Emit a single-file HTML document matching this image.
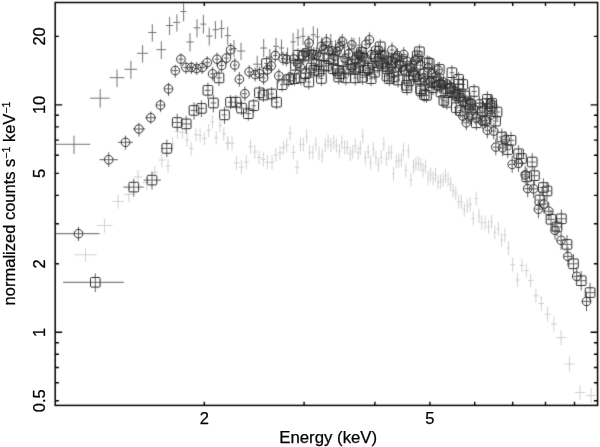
<!DOCTYPE html>
<html><head><meta charset="utf-8"><style>
html,body{margin:0;padding:0;background:#fff;}
body{width:600px;height:447px;overflow:hidden;font-family:"Liberation Sans",sans-serif;}
svg{display:block;}
</style></head><body>
<svg width="600" height="447" viewBox="0 0 600 447">
<defs><filter id="bl" x="-2%" y="-2%" width="104%" height="104%"><feConvolveMatrix order="3" kernelMatrix="0.015 0.08 0.015 0.08 0.62 0.08 0.015 0.08 0.015" edgeMode="none"/></filter><filter id="tb" x="-5%" y="-5%" width="110%" height="110%"><feGaussianBlur stdDeviation="0.2"/></filter></defs><g filter="url(#bl)">
<path d="M74.3 254.8H96.6M85.5 248.3V262.0M96.6 225.5H112.4M104.5 218.4V232.7M112.4 201.4H124.0M118.1 194.3V208.7M124.0 194.5H133.9M128.9 187.4V202.0M133.9 176.8H142.5M138.0 170.0V184.6M142.5 182.6H151.5M146.7 177.3V190.2M151.5 172.4H158.5M154.8 166.1V178.4M158.5 160.0H165.5M161.9 153.8V167.4M165.5 166.0H170.5M168.0 159.0V173.0M170.5 144.0H175.0M172.6 137.0V151.0M175.0 131.5H179.8M177.4 127.2V138.6M179.8 132.5H184.8M182.3 126.0V139.0M184.8 140.0H189.2M187.0 133.0V147.0M189.2 148.6H193.6M191.2 142.1V155.7M193.6 134.7H198.0M196.0 128.0V141.5M198.0 135.3H202.2M200.1 128.5V142.0M202.2 138.6H206.5M204.4 132.0V145.3M206.5 130.6H210.6M208.7 124.0V137.2M210.6 121.8H214.3M212.4 115.0V128.6M214.3 137.7H218.2M216.2 131.0V144.6M218.2 125.6H222.0M220.1 119.0V132.2M222.0 133.9H225.8M223.8 127.3V140.5M225.8 142.7H230.0M227.9 136.0V149.4M224.9 143.2H230.1M227.5 136.2V150.2M229.4 143.2H234.6M232.0 136.2V150.2M233.8 162.9H239.0M236.4 155.9V169.9M238.8 167.0H244.0M241.4 160.0V174.0M243.7 162.0H248.9M246.3 155.0V169.0M248.3 146.6H252.7M250.5 139.6V153.6M252.7 152.0H257.1M254.9 145.0V159.0M256.9 157.5H261.3M259.1 150.5V164.5M261.1 159.5H265.5M263.3 152.5V166.5M265.2 162.3H269.6M267.4 155.3V169.3M269.8 162.3H274.2M272.0 155.3V169.3M273.6 155.0H278.0M275.8 148.0V162.0M277.8 152.8H282.2M280.0 145.8V159.8M281.2 147.8H285.6M283.4 140.8V154.8M284.5 145.2H288.9M286.7 138.2V152.2M287.9 133.2H292.3M290.1 126.2V140.2M291.1 152.3H295.5M293.3 145.3V159.3M294.9 167.4H299.3M297.1 160.4V174.4M299.2 144.4H301.8M300.5 137.4V151.4M302.1 144.4H304.7M303.4 137.4V151.4M305.4 136.3H308.0M306.7 129.3V143.3M308.1 152.3H310.7M309.4 145.3V159.3M311.5 152.3H314.1M312.8 145.3V159.3M314.6 144.4H317.2M315.9 137.4V151.4M317.7 153.3H320.3M319.0 146.3V160.3M320.9 155.7H323.5M322.2 148.7V162.7M324.0 145.0H326.6M325.3 138.0V152.0M326.8 141.5H329.4M328.1 134.5V148.5M329.6 144.9H332.2M330.9 137.9V151.9M332.5 142.2H335.1M333.8 135.2V149.2M335.1 145.5H337.7M336.4 138.5V152.5M338.0 151.1H340.6M339.3 144.1V158.1M340.5 142.3H343.1M341.8 135.3V149.3M343.4 147.4H346.0M344.7 140.4V154.4M346.0 147.7H348.6M347.3 140.7V154.7M348.9 154.1H351.5M350.2 147.1V161.1M351.4 151.9H354.0M352.7 144.9V158.9M353.9 145.5H356.5M355.2 138.5V152.5M356.8 152.8H359.4M358.1 145.8V159.8M359.0 148.2H361.6M360.3 141.2V155.2M361.5 136.3H364.1M362.8 129.3V143.3M364.0 157.8H366.6M365.3 150.8V164.8M366.9 151.9H369.5M368.2 144.9V158.9M369.4 162.5H372.0M370.7 155.5V169.5M372.1 149.4H374.7M373.4 142.4V156.4M374.6 157.8H377.2M375.9 150.8V164.8M377.1 165.0H379.7M378.4 158.0V172.0M379.9 157.3H382.5M381.2 150.3V164.3M382.5 144.0H385.1M383.8 137.0V151.0M385.0 159.1H387.6M386.3 152.1V166.1M387.5 152.8H390.1M388.8 145.8V159.8M390.0 152.2H392.6M391.3 145.2V159.2M392.2 173.7H394.8M393.5 166.7V180.7M395.0 161.5H397.6M396.3 154.5V168.5M397.6 160.6H400.2M398.9 153.6V167.6M400.1 160.0H402.7M401.4 153.0V167.0M402.1 150.2H404.7M403.4 143.2V157.2M404.6 170.4H407.2M405.9 163.4V177.4M407.1 151.1H409.7M408.4 144.1V158.1M409.6 179.6H412.2M410.9 172.6V186.6M412.2 166.5H414.8M413.5 159.5V173.5M414.6 164.2H417.2M415.9 157.2V171.2M417.1 163.4H419.7M418.4 156.4V170.4M419.6 165.2H422.2M420.9 158.2V172.2M421.8 169.9H424.4M423.1 162.9V176.9M424.3 166.5H426.9M425.6 159.5V173.5M426.8 177.8H429.4M428.1 170.8V184.8M429.3 174.4H431.9M430.6 167.4V181.4M431.8 178.3H434.4M433.1 171.3V185.3M434.2 174.7H436.8M435.5 167.7V181.7M436.7 182.4H439.3M438.0 175.4V189.4M439.2 181.6H441.8M440.5 174.6V188.6M441.7 179.9H444.3M443.0 172.9V186.9M444.2 176.1H446.8M445.5 169.1V183.1M446.8 179.8H449.4M448.1 172.8V186.8M449.1 184.0H452.1M450.6 177.0V191.0M451.6 190.8H454.6M453.1 183.8V197.8M454.3 193.4H457.3M455.8 186.4V200.4M457.2 201.7H460.2M458.7 194.7V208.7M459.9 201.7H462.9M461.4 194.7V208.7M462.8 209.7H465.8M464.3 202.7V216.7M465.8 205.9H468.8M467.3 198.9V212.9M468.7 204.2H471.7M470.2 197.2V211.2M471.7 218.5H474.7M473.2 211.5V225.5M474.7 198.5H477.7M476.2 191.5V205.5M477.5 216.0H480.5M479.0 209.0V223.0M480.3 222.7H483.3M481.8 215.7V229.7M483.7 222.7H486.7M485.2 215.7V229.7M487.1 226.6H490.1M488.6 219.6V233.6M490.1 221.9H493.1M491.6 214.9V228.9M493.3 232.3H496.3M494.8 225.3V239.3M496.8 228.9H499.8M498.3 221.9V235.9M500.1 240.0H503.1M501.6 233.0V247.0M503.3 235.3H506.3M504.8 228.3V242.3M506.9 247.9H509.9M508.4 240.9V254.9M510.4 264.6H515.0M512.7 257.6V271.6M515.1 280.0H519.7M517.4 273.0V287.0M519.5 265.5H524.3M521.9 258.5V272.5M523.8 270.6H528.8M526.3 263.6V277.6M528.1 280.5H533.3M530.7 273.5V287.5M533.2 295.8H538.6M535.9 288.8V302.8M538.5 303.5H544.1M541.3 296.0V311.0M544.6 314.2H550.6M547.6 306.7V321.7M550.8 324.0H557.0M553.9 316.5V331.5M556.1 337.6H566.1M561.1 330.1V345.1M564.5 364.0H574.5M569.5 356.5V371.5M575.0 392.5H585.0M580.0 385.0V400.0M586.1 395.5H596.1M591.1 388.0V403.0" stroke="#d0d0d0" stroke-width="1.0" fill="none"/>
<path d="M55.3 144.3H90.2M74.0 135.6V154.0M90.2 98.2H109.7M100.2 89.1V107.7M109.7 77.7H124.4M117.0 69.6V87.2M124.4 69.3H137.1M130.9 60.8V78.9M137.1 53.3H148.2M142.6 45.1V62.6M148.2 32.5H156.4M152.3 24.2V41.5M156.4 49.7H166.1M161.3 41.2V59.0M166.1 25.5H173.2M169.6 17.0V35.0M173.2 22.4H180.2M176.9 14.3V31.6M180.2 11.5H186.4M183.6 3.2V21.4M186.4 42.0H193.6M190.0 33.2V51.5M193.6 27.8H200.3M197.0 19.2V37.5M200.3 24.1H206.2M203.4 14.8V33.6M206.2 36.1H212.6M209.2 27.7V45.6M212.6 29.7H218.8M215.4 21.0V38.9M218.8 28.5H224.7M221.6 20.1V38.3M224.7 35.6H230.9M227.7 26.8V45.0M230.9 48.5H236.9M234.0 40.0V57.0M236.9 51.0H245.1M241.0 42.8V60.2M253.2 64.2H261.2M257.2 55.7V72.7M260.4 48.0H267.0M263.7 39.0V57.0M266.8 57.0H272.8M269.8 49.0V65.0M273.1 46.3H278.9M276.0 37.8V54.8M278.8 48.0H284.2M281.5 39.5V56.5M284.5 55.5H290.5M287.5 47.5V63.5M290.4 41.9H295.8M293.1 32.9V50.9M295.5 37.7H300.5M298.0 29.2V46.2M300.5 36.3H305.5M303.0 27.6V45.0M305.5 44.0H310.5M308.0 36.0V52.0M310.7 34.8H315.9M313.3 26.3V43.3M315.3 36.8H319.7M317.5 28.3V45.3M319.8 45.0H324.2M322.0 37.0V53.0M324.2 41.8H328.6M326.4 33.8V49.8M328.6 41.8H333.0M330.8 33.8V49.8M333.3 48.0H337.7M335.5 40.0V56.0M337.8 44.0H342.2M340.0 36.0V52.0M342.3 47.0H346.7M344.5 39.0V55.0M346.8 50.0H351.2M349.0 42.0V58.0M351.8 46.0H356.2M354.0 38.0V54.0M357.2 45.2H361.6M359.4 37.2V53.2" stroke="#747474" stroke-width="1.0" fill="none"/>
<path d="M63.1 282.3H123.8M95.3 273.4V292.1M123.5 187.1H143.6M133.8 178.6V196.6M143.6 180.1H161.0M152.0 171.5V189.6M161.0 148.4H173.0M166.8 139.7V157.3M173.0 122.5H181.5M177.2 113.8V131.2M181.5 123.9H190.5M186.2 115.8V133.9M190.5 110.4H197.7M194.0 102.4V119.8M197.7 108.4H204.6M201.4 100.4V117.1M204.6 90.3H210.7M207.9 82.5V99.0M210.7 103.0H216.2M213.4 95.0V112.4M216.2 77.9H221.7M219.0 70.0V86.0M221.7 114.9H226.5M224.5 107.1V123.9M228.0 102.2H233.0M230.5 95.2V109.2M233.5 102.2H238.5M236.0 95.2V109.2M239.0 108.1H244.0M241.5 101.1V115.1M245.8 113.7H250.8M248.3 106.7V120.7M251.7 105.7H255.9M253.8 98.7V112.7M257.3 92.8H261.5M259.4 85.8V99.8M261.4 95.0H265.6M263.5 88.0V102.0M264.4 63.5H268.6M266.5 56.5V70.5M269.6 94.0H273.8M271.7 87.0V101.0M274.5 102.2H278.7M276.6 95.2V109.2M280.0 84.7H284.2M282.1 77.7V91.7M286.6 79.6H290.8M288.7 72.6V86.6M292.4 78.7H296.6M294.5 71.7V85.7M293.3 65.3H297.5M295.4 58.3V72.3M295.8 55.2H300.0M297.9 48.2V62.2M301.7 56.1H305.9M303.8 48.6V63.6M303.3 73.7H307.5M305.4 66.2V81.2M306.7 55.2H310.9M308.8 47.7V62.7M306.7 82.0H310.9M308.8 74.5V89.5M311.7 70.3H315.9M313.8 62.8V77.8M316.8 71.2H321.0M318.9 63.7V78.7M321.8 65.3H326.0M323.9 57.8V72.8M326.8 58.6H331.0M328.9 51.1V66.1M331.0 59.4H335.2M333.1 51.9V66.9M331.3 68.7H335.5M333.4 61.2V76.2M335.2 70.3H339.4M337.3 62.8V77.8M336.6 77.0H340.8M338.7 69.5V84.5M337.9 73.7H342.1M340.0 66.2V81.2M343.8 77.9H348.0M345.9 70.4V85.4M348.9 64.5H353.1M351.0 57.0V72.0M353.1 77.9H357.3M355.2 70.4V85.4M363.1 70.3H367.3M365.2 62.8V77.8M369.0 78.7H373.2M371.1 71.2V86.2M373.2 56.9H377.4M375.3 49.4V64.4M378.2 46.8H382.4M380.3 39.3V54.3M381.6 61.9H385.8M383.7 54.4V69.4M391.7 72.0H395.9M393.8 64.5V79.5M400.0 61.1H404.2M402.1 53.6V68.6M404.2 70.3H408.4M406.3 62.8V77.8M404.4 85.2H408.6M406.5 77.7V92.7M411.8 76.2H416.0M413.9 68.7V83.7M415.1 56.0H419.3M417.2 48.5V63.5M417.3 51.8H421.5M419.4 44.3V59.3M418.5 88.8H422.7M420.6 81.3V96.3M418.9 90.9H423.1M421.0 83.4V98.4M421.9 73.7H426.1M424.0 66.2V81.2M422.1 94.7H426.3M424.2 87.2V102.2M425.2 62.8H429.4M427.3 55.3V70.3M427.1 63.5H431.3M429.2 56.0V71.0M437.2 69.4H441.4M439.3 61.9V76.9M444.8 102.3H449.0M446.9 94.8V109.8M448.0 88.4H452.6M450.3 80.9V95.9M449.6 72.7H454.2M451.9 65.2V80.2M456.2 79.4H461.0M458.6 71.9V86.9M456.3 84.2H461.1M458.7 76.7V91.7M457.9 110.5H462.7M460.3 103.0V118.0M460.3 84.5H465.3M462.8 77.0V92.0M465.4 103.5H470.6M468.0 96.0V111.0M467.7 104.6H472.9M470.3 97.1V112.1M471.5 91.5H476.7M474.1 84.0V99.0M473.6 122.8H479.0M476.3 115.3V130.3M484.6 99.3H490.2M487.4 91.2V107.4M484.4 103.5H490.0M487.2 95.4V111.6M487.1 108.5H492.9M490.0 100.3V116.7M488.5 106.0H494.3M491.4 97.8V114.2M488.8 103.4H494.6M491.7 95.2V111.6M492.6 121.1H498.6M495.6 112.8V129.4M494.0 112.0H500.0M497.0 103.7V120.3M498.8 137.0H504.8M501.8 128.6V145.4M504.6 149.6H510.8M507.7 141.1V158.1M507.8 140.3H514.2M511.0 131.8V148.8M515.3 153.8H521.9M518.6 145.2V162.4M518.2 158.5H524.8M521.5 149.8V167.2M523.4 176.8H530.2M526.8 168.0V185.6M528.6 162.0H535.8M532.2 153.1V170.9M530.8 175.7H538.0M534.4 166.8V184.6M536.2 200.0H543.6M539.9 191.0V209.0M539.6 187.5H547.2M543.4 178.4V196.6M543.1 191.0H550.9M547.0 181.9V200.1M547.0 219.3H555.0M551.0 210.1V228.5M552.9 226.9H561.1M557.0 217.6V236.2M557.2 218.8H565.6M561.4 209.4V228.2M562.7 244.4H571.3M567.0 235.0V253.8M569.1 263.8H577.9M573.5 254.2V273.4M576.6 280.7H585.8M581.2 271.0V290.4M585.3 292.6H594.9M590.1 282.8V302.4M357.9 62.0H362.1M360.0 54.5V69.5M384.9 76.0H389.1M387.0 68.5V83.5M395.9 80.0H400.1M398.0 72.5V87.5M431.9 82.0H436.1M434.0 74.5V89.5M438.9 92.0H443.1M441.0 84.5V99.5M451.6 92.0H456.4M454.0 84.5V99.5M462.5 96.0H467.5M465.0 88.5V103.5M477.3 108.0H482.7M480.0 100.0V116.0M298.8 77.8H303.0M300.9 70.3V85.3M309.2 68.0H313.4M311.3 60.5V75.5M314.3 64.4H318.5M316.4 56.9V71.9M319.3 78.5H323.5M321.4 71.0V86.0M324.3 66.1H328.5M326.4 58.6V73.6M340.8 61.6H345.0M342.9 54.1V69.1M346.3 69.2H350.5M348.4 61.7V76.7M355.5 57.7H359.7M357.6 50.2V65.2M360.5 77.3H364.7M362.6 69.8V84.8M366.0 68.0H370.2M368.1 60.5V75.5M375.7 66.0H379.9M377.8 58.5V73.5M387.2 78.7H391.4M389.3 71.2V86.2M389.4 62.7H393.6M391.5 55.2V70.2M406.9 80.8H411.1M409.0 73.3V88.3M409.3 66.2H413.5M411.4 58.7V73.7M429.5 82.7H433.7M431.6 75.2V90.2M434.5 81.4H438.7M436.6 73.9V88.9M441.8 100.4H446.0M443.9 92.9V107.9M453.9 107.6H458.7M456.3 100.1V115.1M479.6 111.1H485.2M482.4 103.1V119.1M482.0 120.5H487.6M484.8 112.4V128.6M352.9 69.6H357.1M355.0 62.1V77.1M359.4 52.5H363.6M361.5 45.0V60.0M365.9 68.3H370.1M368.0 60.8V75.8M372.4 72.2H376.6M374.5 64.7V79.7M378.9 63.5H383.1M381.0 56.0V71.0M385.4 68.7H389.6M387.5 61.2V76.2M391.9 77.0H396.1M394.0 69.5V84.5M398.4 66.4H402.6M400.5 58.9V73.9M404.9 87.8H409.1M407.0 80.3V95.3M411.4 74.6H415.6M413.5 67.1V82.1M417.9 79.8H422.1M420.0 72.3V87.3M424.4 95.4H428.6M426.5 87.9V102.9M430.9 87.7H435.1M433.0 80.2V95.2M437.4 85.3H441.6M439.5 77.8V92.8M443.9 88.4H448.1M446.0 80.9V95.9M450.2 91.8H454.8M452.5 84.3V99.3M456.6 95.7H461.4M459.0 88.2V103.2M463.0 101.9H468.0M465.5 94.4V109.4M469.4 114.4H474.6M472.0 106.9V121.9" stroke="#606060" stroke-width="1.0" fill="none"/>
<g stroke="#2c2c2c" stroke-width="1.0" fill="none"><rect x="90.5" y="277.5" width="9.6" height="9.6" rx="1"/><rect x="129.0" y="182.3" width="9.6" height="9.6" rx="1"/><rect x="147.2" y="175.3" width="9.6" height="9.6" rx="1"/><rect x="162.0" y="143.6" width="9.6" height="9.6" rx="1"/><rect x="172.4" y="117.7" width="9.6" height="9.6" rx="1"/><rect x="181.4" y="119.1" width="9.6" height="9.6" rx="1"/><rect x="189.2" y="105.6" width="9.6" height="9.6" rx="1"/><rect x="196.6" y="103.6" width="9.6" height="9.6" rx="1"/><rect x="203.1" y="85.5" width="9.6" height="9.6" rx="1"/><rect x="208.6" y="98.2" width="9.6" height="9.6" rx="1"/><rect x="214.2" y="73.1" width="9.6" height="9.6" rx="1"/><rect x="219.7" y="110.1" width="9.6" height="9.6" rx="1"/><rect x="225.7" y="97.4" width="9.6" height="9.6" rx="1"/><rect x="231.2" y="97.4" width="9.6" height="9.6" rx="1"/><rect x="236.7" y="103.3" width="9.6" height="9.6" rx="1"/><rect x="243.5" y="108.9" width="9.6" height="9.6" rx="1"/><rect x="249.0" y="100.9" width="9.6" height="9.6" rx="1"/><rect x="254.6" y="88.0" width="9.6" height="9.6" rx="1"/><rect x="258.7" y="90.2" width="9.6" height="9.6" rx="1"/><rect x="261.7" y="58.7" width="9.6" height="9.6" rx="1"/><rect x="266.9" y="89.2" width="9.6" height="9.6" rx="1"/><rect x="271.8" y="97.4" width="9.6" height="9.6" rx="1"/><rect x="277.3" y="79.9" width="9.6" height="9.6" rx="1"/><rect x="283.9" y="74.8" width="9.6" height="9.6" rx="1"/><rect x="289.7" y="73.9" width="9.6" height="9.6" rx="1"/><rect x="290.6" y="60.5" width="9.6" height="9.6" rx="1"/><rect x="293.1" y="50.4" width="9.6" height="9.6" rx="1"/><rect x="299.0" y="51.3" width="9.6" height="9.6" rx="1"/><rect x="300.6" y="68.9" width="9.6" height="9.6" rx="1"/><rect x="304.0" y="50.4" width="9.6" height="9.6" rx="1"/><rect x="304.0" y="77.2" width="9.6" height="9.6" rx="1"/><rect x="309.0" y="65.5" width="9.6" height="9.6" rx="1"/><rect x="314.1" y="66.4" width="9.6" height="9.6" rx="1"/><rect x="319.1" y="60.5" width="9.6" height="9.6" rx="1"/><rect x="324.1" y="53.8" width="9.6" height="9.6" rx="1"/><rect x="328.3" y="54.6" width="9.6" height="9.6" rx="1"/><rect x="328.6" y="63.9" width="9.6" height="9.6" rx="1"/><rect x="332.5" y="65.5" width="9.6" height="9.6" rx="1"/><rect x="333.9" y="72.2" width="9.6" height="9.6" rx="1"/><rect x="335.2" y="68.9" width="9.6" height="9.6" rx="1"/><rect x="341.1" y="73.1" width="9.6" height="9.6" rx="1"/><rect x="346.2" y="59.7" width="9.6" height="9.6" rx="1"/><rect x="350.4" y="73.1" width="9.6" height="9.6" rx="1"/><rect x="360.4" y="65.5" width="9.6" height="9.6" rx="1"/><rect x="366.3" y="73.9" width="9.6" height="9.6" rx="1"/><rect x="370.5" y="52.1" width="9.6" height="9.6" rx="1"/><rect x="375.5" y="42.0" width="9.6" height="9.6" rx="1"/><rect x="378.9" y="57.1" width="9.6" height="9.6" rx="1"/><rect x="389.0" y="67.2" width="9.6" height="9.6" rx="1"/><rect x="397.3" y="56.3" width="9.6" height="9.6" rx="1"/><rect x="401.5" y="65.5" width="9.6" height="9.6" rx="1"/><rect x="401.7" y="80.4" width="9.6" height="9.6" rx="1"/><rect x="409.1" y="71.4" width="9.6" height="9.6" rx="1"/><rect x="412.4" y="51.2" width="9.6" height="9.6" rx="1"/><rect x="414.6" y="47.0" width="9.6" height="9.6" rx="1"/><rect x="415.8" y="84.0" width="9.6" height="9.6" rx="1"/><rect x="416.2" y="86.1" width="9.6" height="9.6" rx="1"/><rect x="419.2" y="68.9" width="9.6" height="9.6" rx="1"/><rect x="419.4" y="89.9" width="9.6" height="9.6" rx="1"/><rect x="422.5" y="58.0" width="9.6" height="9.6" rx="1"/><rect x="424.4" y="58.7" width="9.6" height="9.6" rx="1"/><rect x="434.5" y="64.6" width="9.6" height="9.6" rx="1"/><rect x="442.1" y="97.5" width="9.6" height="9.6" rx="1"/><rect x="445.5" y="83.6" width="9.6" height="9.6" rx="1"/><rect x="447.1" y="67.9" width="9.6" height="9.6" rx="1"/><rect x="453.8" y="74.6" width="9.6" height="9.6" rx="1"/><rect x="453.9" y="79.4" width="9.6" height="9.6" rx="1"/><rect x="455.5" y="105.7" width="9.6" height="9.6" rx="1"/><rect x="458.0" y="79.7" width="9.6" height="9.6" rx="1"/><rect x="463.2" y="98.7" width="9.6" height="9.6" rx="1"/><rect x="465.5" y="99.8" width="9.6" height="9.6" rx="1"/><rect x="469.3" y="86.7" width="9.6" height="9.6" rx="1"/><rect x="471.5" y="118.0" width="9.6" height="9.6" rx="1"/><rect x="482.6" y="94.5" width="9.6" height="9.6" rx="1"/><rect x="482.4" y="98.7" width="9.6" height="9.6" rx="1"/><rect x="485.2" y="103.7" width="9.6" height="9.6" rx="1"/><rect x="486.6" y="101.2" width="9.6" height="9.6" rx="1"/><rect x="486.9" y="98.6" width="9.6" height="9.6" rx="1"/><rect x="490.8" y="116.3" width="9.6" height="9.6" rx="1"/><rect x="492.2" y="107.2" width="9.6" height="9.6" rx="1"/><rect x="497.0" y="132.2" width="9.6" height="9.6" rx="1"/><rect x="502.9" y="144.8" width="9.6" height="9.6" rx="1"/><rect x="506.2" y="135.5" width="9.6" height="9.6" rx="1"/><rect x="513.8" y="149.0" width="9.6" height="9.6" rx="1"/><rect x="516.7" y="153.7" width="9.6" height="9.6" rx="1"/><rect x="522.0" y="172.0" width="9.6" height="9.6" rx="1"/><rect x="527.4" y="157.2" width="9.6" height="9.6" rx="1"/><rect x="529.6" y="170.9" width="9.6" height="9.6" rx="1"/><rect x="535.1" y="195.2" width="9.6" height="9.6" rx="1"/><rect x="538.6" y="182.7" width="9.6" height="9.6" rx="1"/><rect x="542.2" y="186.2" width="9.6" height="9.6" rx="1"/><rect x="546.2" y="214.5" width="9.6" height="9.6" rx="1"/><rect x="552.2" y="222.1" width="9.6" height="9.6" rx="1"/><rect x="556.6" y="214.0" width="9.6" height="9.6" rx="1"/><rect x="562.2" y="239.6" width="9.6" height="9.6" rx="1"/><rect x="568.7" y="259.0" width="9.6" height="9.6" rx="1"/><rect x="576.4" y="275.9" width="9.6" height="9.6" rx="1"/><rect x="585.3" y="287.8" width="9.6" height="9.6" rx="1"/><rect x="355.2" y="57.2" width="9.6" height="9.6" rx="1"/><rect x="382.2" y="71.2" width="9.6" height="9.6" rx="1"/><rect x="393.2" y="75.2" width="9.6" height="9.6" rx="1"/><rect x="429.2" y="77.2" width="9.6" height="9.6" rx="1"/><rect x="436.2" y="87.2" width="9.6" height="9.6" rx="1"/><rect x="449.2" y="87.2" width="9.6" height="9.6" rx="1"/><rect x="460.2" y="91.2" width="9.6" height="9.6" rx="1"/><rect x="475.2" y="103.2" width="9.6" height="9.6" rx="1"/><rect x="296.1" y="73.0" width="9.6" height="9.6" rx="1"/><rect x="306.5" y="63.2" width="9.6" height="9.6" rx="1"/><rect x="311.6" y="59.6" width="9.6" height="9.6" rx="1"/><rect x="316.6" y="73.7" width="9.6" height="9.6" rx="1"/><rect x="321.6" y="61.3" width="9.6" height="9.6" rx="1"/><rect x="338.1" y="56.8" width="9.6" height="9.6" rx="1"/><rect x="343.6" y="64.4" width="9.6" height="9.6" rx="1"/><rect x="352.8" y="52.9" width="9.6" height="9.6" rx="1"/><rect x="357.8" y="72.5" width="9.6" height="9.6" rx="1"/><rect x="363.3" y="63.2" width="9.6" height="9.6" rx="1"/><rect x="373.0" y="61.2" width="9.6" height="9.6" rx="1"/><rect x="384.5" y="73.9" width="9.6" height="9.6" rx="1"/><rect x="386.7" y="57.9" width="9.6" height="9.6" rx="1"/><rect x="404.2" y="76.0" width="9.6" height="9.6" rx="1"/><rect x="406.6" y="61.4" width="9.6" height="9.6" rx="1"/><rect x="426.8" y="77.9" width="9.6" height="9.6" rx="1"/><rect x="431.8" y="76.6" width="9.6" height="9.6" rx="1"/><rect x="439.1" y="95.6" width="9.6" height="9.6" rx="1"/><rect x="451.5" y="102.8" width="9.6" height="9.6" rx="1"/><rect x="477.6" y="106.3" width="9.6" height="9.6" rx="1"/><rect x="480.0" y="115.7" width="9.6" height="9.6" rx="1"/><rect x="350.2" y="64.8" width="9.6" height="9.6" rx="1"/><rect x="356.7" y="47.7" width="9.6" height="9.6" rx="1"/><rect x="363.2" y="63.5" width="9.6" height="9.6" rx="1"/><rect x="369.7" y="67.4" width="9.6" height="9.6" rx="1"/><rect x="376.2" y="58.7" width="9.6" height="9.6" rx="1"/><rect x="382.7" y="63.9" width="9.6" height="9.6" rx="1"/><rect x="389.2" y="72.2" width="9.6" height="9.6" rx="1"/><rect x="395.7" y="61.6" width="9.6" height="9.6" rx="1"/><rect x="402.2" y="83.0" width="9.6" height="9.6" rx="1"/><rect x="408.7" y="69.8" width="9.6" height="9.6" rx="1"/><rect x="415.2" y="75.0" width="9.6" height="9.6" rx="1"/><rect x="421.7" y="90.6" width="9.6" height="9.6" rx="1"/><rect x="428.2" y="82.9" width="9.6" height="9.6" rx="1"/><rect x="434.7" y="80.5" width="9.6" height="9.6" rx="1"/><rect x="441.2" y="83.6" width="9.6" height="9.6" rx="1"/><rect x="447.7" y="87.0" width="9.6" height="9.6" rx="1"/><rect x="454.2" y="90.9" width="9.6" height="9.6" rx="1"/><rect x="460.7" y="97.1" width="9.6" height="9.6" rx="1"/><rect x="467.2" y="109.6" width="9.6" height="9.6" rx="1"/></g>
<path d="M55.3 233.7H99.5M78.5 226.9V241.0M99.5 159.7H117.9M108.7 152.3V166.9M117.9 142.3H132.9M125.5 135.6V149.6M132.9 129.0H145.3M138.9 122.8V136.6M145.3 117.7H156.0M150.8 111.5V123.9M156.0 105.1H165.0M160.5 99.2V112.1M165.0 88.9H172.0M168.5 82.7V96.1M172.0 70.6H178.3M175.3 64.8V77.7M178.3 59.2H183.5M180.9 53.4V65.9M183.5 67.5H188.8M186.0 61.5V74.0M188.8 67.5H194.0M191.4 61.5V74.0M194.0 68.5H199.5M196.7 62.0V75.0M199.5 67.5H204.8M202.2 61.0V74.0M204.8 62.6H210.0M207.2 56.0V69.0M210.0 73.8H214.8M212.6 67.0V80.5M214.8 59.2H219.4M217.0 52.5V66.0M219.4 65.5H224.0M221.7 59.0V72.0M224.0 58.1H228.6M226.4 51.5V64.5M228.6 49.7H232.8M230.7 43.0V56.5M232.8 65.1H237.0M234.8 58.0V72.0M237.0 79.3H241.8M239.4 72.0V86.5M241.8 93.7H247.0M244.9 86.5V101.0M247.0 71.9H251.5M249.2 65.0V79.0M253.0 74.5H257.2M255.1 67.5V81.5M257.4 73.7H261.6M259.5 66.7V80.7M261.5 77.9H265.7M263.6 70.9V84.9M265.4 69.8H269.6M267.5 62.8V76.8M269.1 65.8H273.3M271.2 58.8V72.8M273.2 55.5H277.4M275.3 48.5V62.5M276.7 75.8H280.9M278.8 68.8V82.8M280.9 58.5H285.1M283.0 51.5V65.5M284.3 59.3H288.5M286.4 52.3V66.3M288.2 77.0H292.4M290.3 70.0V84.0M291.6 59.0H295.8M293.7 52.0V66.0M295.8 63.5H300.0M297.9 56.5V70.5M300.4 55.4H304.6M302.5 47.9V62.9M306.9 43.0H311.1M309.0 35.5V50.5M311.7 54.4H315.9M313.8 46.9V61.9M316.8 56.6H321.0M318.9 49.1V64.1M321.8 49.4H326.0M323.9 41.9V56.9M324.3 41.8H328.5M326.4 34.3V49.3M326.9 51.0H331.1M329.0 43.5V58.5M332.7 56.1H336.9M334.8 48.6V63.6M337.4 46.5H341.6M339.5 39.0V54.0M343.0 58.6H347.2M345.1 51.1V66.1M346.4 53.6H350.6M348.5 46.1V61.1M349.7 44.8H353.9M351.8 37.3V52.3M356.4 67.8H360.6M358.5 60.3V75.3M358.1 56.0H362.3M360.2 48.5V63.5M363.9 44.3H368.1M366.0 36.8V51.8M367.3 39.8H371.5M369.4 32.3V47.3M369.9 65.3H374.1M372.0 57.8V72.8M376.6 50.2H380.8M378.7 42.7V57.7M376.6 57.8H380.8M378.7 50.3V65.3M383.3 67.0H387.5M385.4 59.5V74.5M389.1 60.3H393.3M391.2 52.8V67.8M389.9 49.9H394.1M392.0 42.4V57.4M397.5 64.5H401.7M399.6 57.0V72.0M401.7 54.4H405.9M403.8 46.9V61.9M408.4 67.0H412.6M410.5 59.5V74.5M418.5 65.3H422.7M420.6 57.8V72.8M422.8 80.8H427.0M424.9 73.3V88.3M429.6 73.6H433.8M431.7 66.1V81.1M441.4 82.0H445.6M443.5 74.5V89.5M448.7 87.0H453.3M451.0 79.5V94.5M452.9 96.5H457.7M455.3 89.0V104.0M458.0 97.6H462.8M460.4 90.1V105.1M460.4 116.1H465.4M462.9 108.6V123.6M463.8 122.8H468.8M466.3 115.3V130.3M466.2 116.9H471.4M468.8 109.4V124.4M468.6 102.9H473.8M471.2 95.4V110.4M473.6 117.8H479.0M476.3 110.3V125.3M479.6 121.0H485.2M482.4 113.0V129.0M482.8 120.3H488.4M485.6 112.2V128.4M484.6 130.3H490.2M487.4 122.2V138.4M487.7 115.2H493.5M490.6 107.0V123.4M487.6 102.9H493.4M490.5 94.7V111.1M490.8 131.1H496.6M493.7 122.9V139.3M492.8 147.1H498.8M495.8 138.8V155.4M499.5 147.9H505.7M502.6 139.5V156.3M502.1 139.5H508.3M505.2 131.1V147.9M509.0 164.4H515.4M512.2 155.9V172.9M515.2 163.4H521.8M518.5 154.8V172.0M521.8 174.8H528.6M525.2 166.0V183.6M524.2 188.6H531.2M527.7 179.8V197.4M530.0 188.9H537.2M533.6 180.0V197.8M534.7 209.2H542.1M538.4 200.2V218.2M540.0 204.0H547.6M543.8 194.9V213.1M544.9 211.2H552.7M548.8 202.1V220.3M551.0 230.3H559.0M555.0 221.1V239.6M556.9 240.3H565.3M561.1 230.9V249.7M563.6 256.4H572.2M567.9 246.9V265.9M572.2 276.3H581.2M576.7 266.7V285.9M581.8 301.4H591.2M586.5 291.6V311.2M412.9 60.0H417.1M415.0 52.5V67.5M433.9 76.0H438.1M436.0 68.5V83.5M444.9 84.0H449.1M447.0 76.5V91.5M435.9 70.0H440.1M438.0 62.5V77.5M425.9 68.0H430.1M428.0 60.5V75.5M410.9 72.0H415.1M413.0 64.5V79.5M392.9 58.0H397.1M395.0 50.5V65.5M298.1 67.1H302.3M300.2 59.6V74.6M303.7 52.6H307.9M305.8 45.1V60.1M309.3 54.0H313.5M311.4 46.5V61.5M314.3 54.9H318.5M316.4 47.4V62.4M319.3 46.3H323.5M321.4 38.8V53.8M329.8 50.8H334.0M331.9 43.3V58.3M335.0 51.5H339.2M337.1 44.0V59.0M340.2 41.5H344.4M342.3 34.0V49.0M353.0 59.3H357.2M355.1 51.8V66.8M361.0 57.1H365.2M363.1 49.6V64.6M373.3 50.3H377.5M375.4 42.8V57.8M379.9 54.7H384.1M382.0 47.2V62.2M386.2 60.2H390.4M388.3 52.7V67.7M395.2 57.8H399.4M397.3 50.3V65.3M405.0 61.4H409.2M407.1 53.9V68.9M415.7 58.4H419.9M417.8 50.9V65.9M438.7 83.4H442.9M440.8 75.9V90.9M455.5 93.7H460.3M457.9 86.2V101.2M471.2 108.5H476.4M473.8 101.0V116.0M476.7 103.5H482.1M479.4 96.0V111.0M349.9 67.6H354.1M352.0 60.1V75.1M356.4 54.4H360.6M358.5 46.9V61.9M362.9 57.6H367.1M365.0 50.1V65.1M369.4 54.6H373.6M371.5 47.1V62.1M375.9 61.2H380.1M378.0 53.7V68.7M382.4 55.0H386.6M384.5 47.5V62.5M388.9 66.0H393.1M391.0 58.5V73.5M395.4 55.6H399.6M397.5 48.1V63.1M401.9 70.0H406.1M404.0 62.5V77.5M408.4 68.0H412.6M410.5 60.5V75.5M414.9 77.4H419.1M417.0 69.9V84.9M421.4 77.8H425.6M423.5 70.3V85.3M427.9 81.0H432.1M430.0 73.5V88.5M434.4 85.8H438.6M436.5 78.3V93.3M440.9 84.5H445.1M443.0 77.0V92.0M447.4 88.5H451.6M449.5 81.0V96.0M453.6 94.2H458.4M456.0 86.7V101.7M460.0 101.5H465.0M462.5 94.0V109.0M466.4 108.5H471.6M469.0 101.0V116.0" stroke="#606060" stroke-width="1.0" fill="none"/>
<g stroke="#2c2c2c" stroke-width="1.0" fill="none"><circle cx="78.5" cy="233.7" r="4.3"/><circle cx="108.7" cy="159.7" r="4.3"/><circle cx="125.5" cy="142.3" r="4.3"/><circle cx="138.9" cy="129.0" r="4.3"/><circle cx="150.8" cy="117.7" r="4.3"/><circle cx="160.5" cy="105.1" r="4.3"/><circle cx="168.5" cy="88.9" r="4.3"/><circle cx="175.3" cy="70.6" r="4.3"/><circle cx="180.9" cy="59.2" r="4.3"/><circle cx="186.0" cy="67.5" r="4.3"/><circle cx="191.4" cy="67.5" r="4.3"/><circle cx="196.7" cy="68.5" r="4.3"/><circle cx="202.2" cy="67.5" r="4.3"/><circle cx="207.2" cy="62.6" r="4.3"/><circle cx="212.6" cy="73.8" r="4.3"/><circle cx="217.0" cy="59.2" r="4.3"/><circle cx="221.7" cy="65.5" r="4.3"/><circle cx="226.4" cy="58.1" r="4.3"/><circle cx="230.7" cy="49.7" r="4.3"/><circle cx="234.8" cy="65.1" r="4.3"/><circle cx="239.4" cy="79.3" r="4.3"/><circle cx="244.9" cy="93.7" r="4.3"/><circle cx="249.2" cy="71.9" r="4.3"/><circle cx="255.1" cy="74.5" r="4.3"/><circle cx="259.5" cy="73.7" r="4.3"/><circle cx="263.6" cy="77.9" r="4.3"/><circle cx="267.5" cy="69.8" r="4.3"/><circle cx="271.2" cy="65.8" r="4.3"/><circle cx="275.3" cy="55.5" r="4.3"/><circle cx="278.8" cy="75.8" r="4.3"/><circle cx="283.0" cy="58.5" r="4.3"/><circle cx="286.4" cy="59.3" r="4.3"/><circle cx="290.3" cy="77.0" r="4.3"/><circle cx="293.7" cy="59.0" r="4.3"/><circle cx="297.9" cy="63.5" r="4.3"/><circle cx="302.5" cy="55.4" r="4.3"/><circle cx="309.0" cy="43.0" r="4.3"/><circle cx="313.8" cy="54.4" r="4.3"/><circle cx="318.9" cy="56.6" r="4.3"/><circle cx="323.9" cy="49.4" r="4.3"/><circle cx="326.4" cy="41.8" r="4.3"/><circle cx="329.0" cy="51.0" r="4.3"/><circle cx="334.8" cy="56.1" r="4.3"/><circle cx="339.5" cy="46.5" r="4.3"/><circle cx="345.1" cy="58.6" r="4.3"/><circle cx="348.5" cy="53.6" r="4.3"/><circle cx="351.8" cy="44.8" r="4.3"/><circle cx="358.5" cy="67.8" r="4.3"/><circle cx="360.2" cy="56.0" r="4.3"/><circle cx="366.0" cy="44.3" r="4.3"/><circle cx="369.4" cy="39.8" r="4.3"/><circle cx="372.0" cy="65.3" r="4.3"/><circle cx="378.7" cy="50.2" r="4.3"/><circle cx="378.7" cy="57.8" r="4.3"/><circle cx="385.4" cy="67.0" r="4.3"/><circle cx="391.2" cy="60.3" r="4.3"/><circle cx="392.0" cy="49.9" r="4.3"/><circle cx="399.6" cy="64.5" r="4.3"/><circle cx="403.8" cy="54.4" r="4.3"/><circle cx="410.5" cy="67.0" r="4.3"/><circle cx="420.6" cy="65.3" r="4.3"/><circle cx="424.9" cy="80.8" r="4.3"/><circle cx="431.7" cy="73.6" r="4.3"/><circle cx="443.5" cy="82.0" r="4.3"/><circle cx="451.0" cy="87.0" r="4.3"/><circle cx="455.3" cy="96.5" r="4.3"/><circle cx="460.4" cy="97.6" r="4.3"/><circle cx="462.9" cy="116.1" r="4.3"/><circle cx="466.3" cy="122.8" r="4.3"/><circle cx="468.8" cy="116.9" r="4.3"/><circle cx="471.2" cy="102.9" r="4.3"/><circle cx="476.3" cy="117.8" r="4.3"/><circle cx="482.4" cy="121.0" r="4.3"/><circle cx="485.6" cy="120.3" r="4.3"/><circle cx="487.4" cy="130.3" r="4.3"/><circle cx="490.6" cy="115.2" r="4.3"/><circle cx="490.5" cy="102.9" r="4.3"/><circle cx="493.7" cy="131.1" r="4.3"/><circle cx="495.8" cy="147.1" r="4.3"/><circle cx="502.6" cy="147.9" r="4.3"/><circle cx="505.2" cy="139.5" r="4.3"/><circle cx="512.2" cy="164.4" r="4.3"/><circle cx="518.5" cy="163.4" r="4.3"/><circle cx="525.2" cy="174.8" r="4.3"/><circle cx="527.7" cy="188.6" r="4.3"/><circle cx="533.6" cy="188.9" r="4.3"/><circle cx="538.4" cy="209.2" r="4.3"/><circle cx="543.8" cy="204.0" r="4.3"/><circle cx="548.8" cy="211.2" r="4.3"/><circle cx="555.0" cy="230.3" r="4.3"/><circle cx="561.1" cy="240.3" r="4.3"/><circle cx="567.9" cy="256.4" r="4.3"/><circle cx="576.7" cy="276.3" r="4.3"/><circle cx="586.5" cy="301.4" r="4.3"/><circle cx="415.0" cy="60.0" r="4.3"/><circle cx="436.0" cy="76.0" r="4.3"/><circle cx="447.0" cy="84.0" r="4.3"/><circle cx="438.0" cy="70.0" r="4.3"/><circle cx="428.0" cy="68.0" r="4.3"/><circle cx="413.0" cy="72.0" r="4.3"/><circle cx="395.0" cy="58.0" r="4.3"/><circle cx="300.2" cy="67.1" r="4.3"/><circle cx="305.8" cy="52.6" r="4.3"/><circle cx="311.4" cy="54.0" r="4.3"/><circle cx="316.4" cy="54.9" r="4.3"/><circle cx="321.4" cy="46.3" r="4.3"/><circle cx="331.9" cy="50.8" r="4.3"/><circle cx="337.1" cy="51.5" r="4.3"/><circle cx="342.3" cy="41.5" r="4.3"/><circle cx="355.1" cy="59.3" r="4.3"/><circle cx="363.1" cy="57.1" r="4.3"/><circle cx="375.4" cy="50.3" r="4.3"/><circle cx="382.0" cy="54.7" r="4.3"/><circle cx="388.3" cy="60.2" r="4.3"/><circle cx="397.3" cy="57.8" r="4.3"/><circle cx="407.1" cy="61.4" r="4.3"/><circle cx="417.8" cy="58.4" r="4.3"/><circle cx="440.8" cy="83.4" r="4.3"/><circle cx="457.9" cy="93.7" r="4.3"/><circle cx="473.8" cy="108.5" r="4.3"/><circle cx="479.4" cy="103.5" r="4.3"/><circle cx="352.0" cy="67.6" r="4.3"/><circle cx="358.5" cy="54.4" r="4.3"/><circle cx="365.0" cy="57.6" r="4.3"/><circle cx="371.5" cy="54.6" r="4.3"/><circle cx="378.0" cy="61.2" r="4.3"/><circle cx="384.5" cy="55.0" r="4.3"/><circle cx="391.0" cy="66.0" r="4.3"/><circle cx="397.5" cy="55.6" r="4.3"/><circle cx="404.0" cy="70.0" r="4.3"/><circle cx="410.5" cy="68.0" r="4.3"/><circle cx="417.0" cy="77.4" r="4.3"/><circle cx="423.5" cy="77.8" r="4.3"/><circle cx="430.0" cy="81.0" r="4.3"/><circle cx="436.5" cy="85.8" r="4.3"/><circle cx="443.0" cy="84.5" r="4.3"/><circle cx="449.5" cy="88.5" r="4.3"/><circle cx="456.0" cy="94.2" r="4.3"/><circle cx="462.5" cy="101.5" r="4.3"/><circle cx="469.0" cy="108.5" r="4.3"/></g>
<path d="M55.2 400.8h3.7M597.6 400.8h-3.7M55.2 382.7h3.7M597.6 382.7h-3.7M55.2 367.5h3.7M597.6 367.5h-3.7M55.2 354.3h3.7M597.6 354.3h-3.7M55.2 342.7h3.7M597.6 342.7h-3.7M55.2 332.3h7M597.6 332.3h-7M55.2 263.8h3.7M597.6 263.8h-3.7M55.2 223.8h3.7M597.6 223.8h-3.7M55.2 195.4h3.7M597.6 195.4h-3.7M55.2 173.4h3.7M597.6 173.4h-3.7M55.2 155.3h3.7M597.6 155.3h-3.7M55.2 140.1h3.7M597.6 140.1h-3.7M55.2 126.9h3.7M597.6 126.9h-3.7M55.2 115.3h3.7M597.6 115.3h-3.7M55.2 104.9h7M597.6 104.9h-7M55.2 36.4h3.7M597.6 36.4h-3.7M204.3 405.4v-3.6M204.3 2.5v3.6M304.1 405.4v-3.6M304.1 2.5v3.6M374.9 405.4v-3.6M374.9 2.5v3.6M429.9 405.4v-3.6M429.9 2.5v3.6M474.7 405.4v-3.6M474.7 2.5v3.6M512.7 405.4v-3.6M512.7 2.5v3.6M545.5 405.4v-3.6M545.5 2.5v3.6M574.5 405.4v-3.6M574.5 2.5v3.6" stroke="#000" stroke-width="1.4" fill="none"/>
<rect x="55.2" y="2.5" width="542.4" height="402.9" stroke="#000" stroke-width="1.5" fill="none"/>
</g>
<g filter="url(#tb)" font-family="Liberation Sans, sans-serif" font-size="16.5" fill="#000" stroke="#000" stroke-width="0.25"><text transform="translate(45.2 36.4) rotate(-90)" text-anchor="middle">20</text><text transform="translate(45.2 104.9) rotate(-90)" text-anchor="middle">10</text><text transform="translate(45.2 173.4) rotate(-90)" text-anchor="middle">5</text><text transform="translate(45.2 263.8) rotate(-90)" text-anchor="middle">2</text><text transform="translate(45.2 332.3) rotate(-90)" text-anchor="middle">1</text><text transform="translate(45.2 400.8) rotate(-90)" text-anchor="middle">0.5</text><text x="204.3" y="423.5" text-anchor="middle">2</text><text x="429.9" y="423.5" text-anchor="middle">5</text><text x="328.2" y="443" text-anchor="middle" font-size="16.8">Energy (keV)</text><text transform="translate(14.6 203.5) rotate(-90)" text-anchor="middle">normalized counts s<tspan font-size="10.5" dy="-5">−1</tspan><tspan dy="5"> keV</tspan><tspan font-size="10.5" dy="-5">−1</tspan></text></g>
</svg>
</body></html>
